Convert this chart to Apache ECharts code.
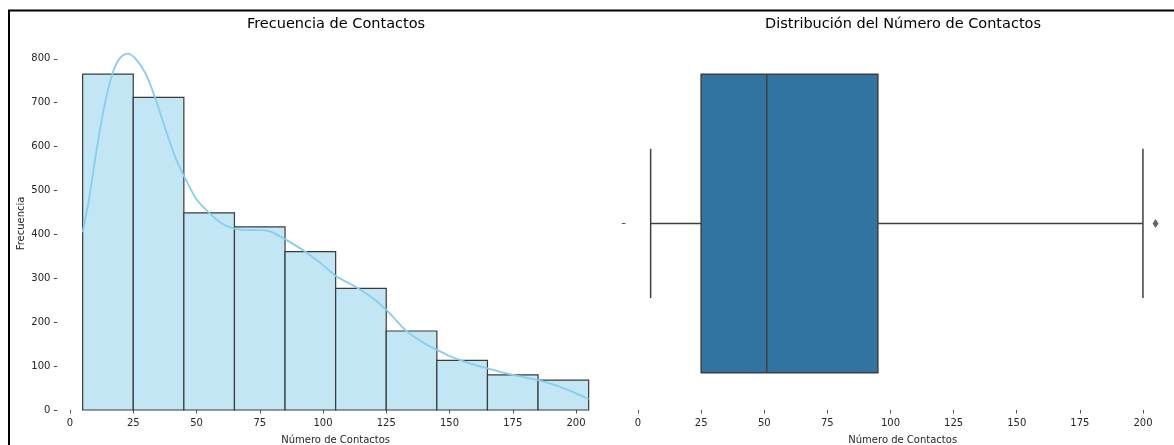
<!DOCTYPE html>
<html>
<head>
<meta charset="utf-8">
<script src="https://cdn.jsdelivr.net/npm/echarts@6/dist/echarts.min.js"></script>
<style>
  html, body { margin: 0; padding: 0; background: #fff; }
  #chart { width: 1174px; height: 445px; }
</style>
</head>
<body>
<div id="chart"></div>
<script>
// Histogram of contact counts (bins of width 20)
const binEdges = [5, 25, 45, 65, 85, 105, 125, 145, 165, 185, 205];
const binCounts = [765, 712, 449, 417, 361, 277, 180, 113, 80, 68];

// Density estimate, scaled to counts
const kdeX = [5, 7.5, 10.5, 13.5, 16.7, 19.5, 22.8, 26, 30, 33.6, 38, 42, 45.5, 50, 55, 60, 64.5, 70, 75, 79,
  85.6, 92.9, 100, 105.4, 114, 119.9, 125, 133.4, 140, 145, 150, 155, 160, 165, 170, 175, 180, 185, 190, 195, 200, 205];
const kdeY = [405, 480, 592, 690, 765, 800, 812, 800, 765, 712, 635, 570, 528, 480, 449, 425, 414, 410, 410, 407,
  387, 361, 330, 304, 277, 254, 228, 178, 152, 137, 123, 112, 103, 95, 87, 80, 74, 68, 60, 50, 38, 25];

// Box plot summary: min whisker, Q1, median, Q3, max whisker
const boxStats = [5, 25, 51, 95, 200];
const outliers = [205];

// Tick values
const xTicks = [0, 25, 50, 75, 100, 125, 150, 175, 200];
const yTicks = [0, 100, 200, 300, 400, 500, 600, 700, 800];

const FONT = 'DejaVu Sans';
const TEXT = '#262626';
const EDGE = '#3f3f3f';

const chart = echarts.init(document.getElementById('chart'), null, { renderer: 'canvas' });

const histData = binCounts.map((c, i) => [binEdges[i], binEdges[i + 1], c]);
const kdeData = kdeX.map((x, i) => [x, kdeY[i]]);

function xAxisCfg(gridIndex, max, namePad) {
  return {
    type: 'value', gridIndex, min: -5, max: max,
    name: 'Número de Contactos', nameLocation: 'middle', nameGap: 25,
    nameTextStyle: { fontFamily: FONT, fontSize: 10, color: TEXT, padding: namePad },
    axisLine: { show: false, onZero: false },
    splitLine: { show: false },
    axisTick: { show: true, customValues: xTicks, length: 3.5, lineStyle: { color: TEXT, width: 0.8 } },
    axisLabel: { customValues: xTicks, fontFamily: FONT, fontSize: 10, color: TEXT, margin: 8 }
  };
}

const titleStyle = { fontFamily: FONT, fontSize: 14.5, fontWeight: 'normal', color: '#000' };

const option = {
  animation: false,
  backgroundColor: '#fff',
  title: [
    { text: 'Frecuencia de Contactos', left: 336, top: 17, textAlign: 'center', padding: 0, textStyle: titleStyle },
    { text: 'Distribución del Número de Contactos', left: 903, top: 17, textAlign: 'center', padding: 0, textStyle: titleStyle }
  ],
  graphic: [
    { type: 'rect', shape: { x: 9, y: 10.5, width: 1300, height: 600 },
      style: { fill: 'none', stroke: '#000', lineWidth: 2 }, z: 100 }
  ],
  grid: [
    { left: 57.35, top: 36.9, width: 556.6, height: 373.1, outerBoundsMode: 'none' },
    { left: 625.4, top: 36.9, right: 0, height: 373.1, outerBoundsMode: 'none' }
  ],
  xAxis: [xAxisCfg(0, 215, 0), xAxisCfg(1, 212.3, [0, 0, 0, 6])],
  yAxis: [
    {
      type: 'value', gridIndex: 0, min: 0, max: 850,
      name: 'Frecuencia', nameLocation: 'middle', nameGap: 31, nameRotate: 90,
      nameTextStyle: { fontFamily: FONT, fontSize: 10, color: TEXT },
      axisLine: { show: false, onZero: false },
      splitLine: { show: false },
      axisTick: { show: true, customValues: yTicks, length: 3.5, lineStyle: { color: TEXT, width: 0.8 } },
      axisLabel: { customValues: yTicks, fontFamily: FONT, fontSize: 10, color: TEXT, margin: 7 }
    },
    {
      type: 'value', gridIndex: 1, min: -0.5, max: 0.5,
      axisLine: { show: false, onZero: false },
      splitLine: { show: false },
      axisTick: { show: true, customValues: [0], length: 3.5, lineStyle: { color: TEXT, width: 0.8 } },
      axisLabel: { show: false }
    }
  ],
  series: [
    {
      type: 'custom', xAxisIndex: 0, yAxisIndex: 0,
      data: histData,
      encode: { x: [0, 1], y: 2 },
      renderItem: function (params, api) {
        const p0 = api.coord([api.value(0), api.value(2)]);
        const p1 = api.coord([api.value(1), 0]);
        return {
          type: 'rect',
          shape: { x: p0[0], y: p0[1], width: p1[0] - p0[0], height: p1[1] - p0[1] },
          style: { fill: '#c3e6f5', stroke: '#3a3a3a', lineWidth: 1.2 }
        };
      },
      z: 2
    },
    {
      type: 'line', xAxisIndex: 0, yAxisIndex: 0,
      data: kdeData,
      showSymbol: false, symbol: 'none',
      smooth: 0.3,
      lineStyle: { color: '#87ceeb', width: 1.8 },
      z: 3
    },
    {
      type: 'custom', xAxisIndex: 1, yAxisIndex: 1,
      data: [boxStats],
      encode: { x: [0, 1, 2, 3, 4] },
      renderItem: function (params, api) {
        const lo = api.coord([api.value(0), 0]);
        const q1 = api.coord([api.value(1), 0]);
        const md = api.coord([api.value(2), 0]);
        const q3 = api.coord([api.value(3), 0]);
        const hi = api.coord([api.value(4), 0]);
        const cy = lo[1];
        const boxHalf = api.size([0, 0.4])[1];
        const capHalf = api.size([0, 0.2])[1];
        const ls = { stroke: EDGE, lineWidth: 1.5 };
        return {
          type: 'group',
          children: [
            { type: 'line', shape: { x1: lo[0], y1: cy, x2: q1[0], y2: cy }, style: ls },
            { type: 'line', shape: { x1: q3[0], y1: cy, x2: hi[0], y2: cy }, style: ls },
            { type: 'line', shape: { x1: lo[0], y1: cy - capHalf, x2: lo[0], y2: cy + capHalf }, style: ls },
            { type: 'line', shape: { x1: hi[0], y1: cy - capHalf, x2: hi[0], y2: cy + capHalf }, style: ls },
            { type: 'rect', shape: { x: q1[0], y: cy - boxHalf, width: q3[0] - q1[0], height: 2 * boxHalf },
              style: { fill: '#3274a1', stroke: EDGE, lineWidth: 1.5 } },
            { type: 'line', shape: { x1: md[0], y1: cy - boxHalf, x2: md[0], y2: cy + boxHalf }, style: ls }
          ]
        };
      },
      z: 2
    },
    {
      type: 'scatter', xAxisIndex: 1, yAxisIndex: 1,
      data: outliers.map(v => [v, 0]),
      symbol: 'diamond', symbolSize: [6, 9],
      itemStyle: { color: EDGE },
      z: 3
    }
  ]
};

chart.setOption(option);
</script>
</body>
</html>
